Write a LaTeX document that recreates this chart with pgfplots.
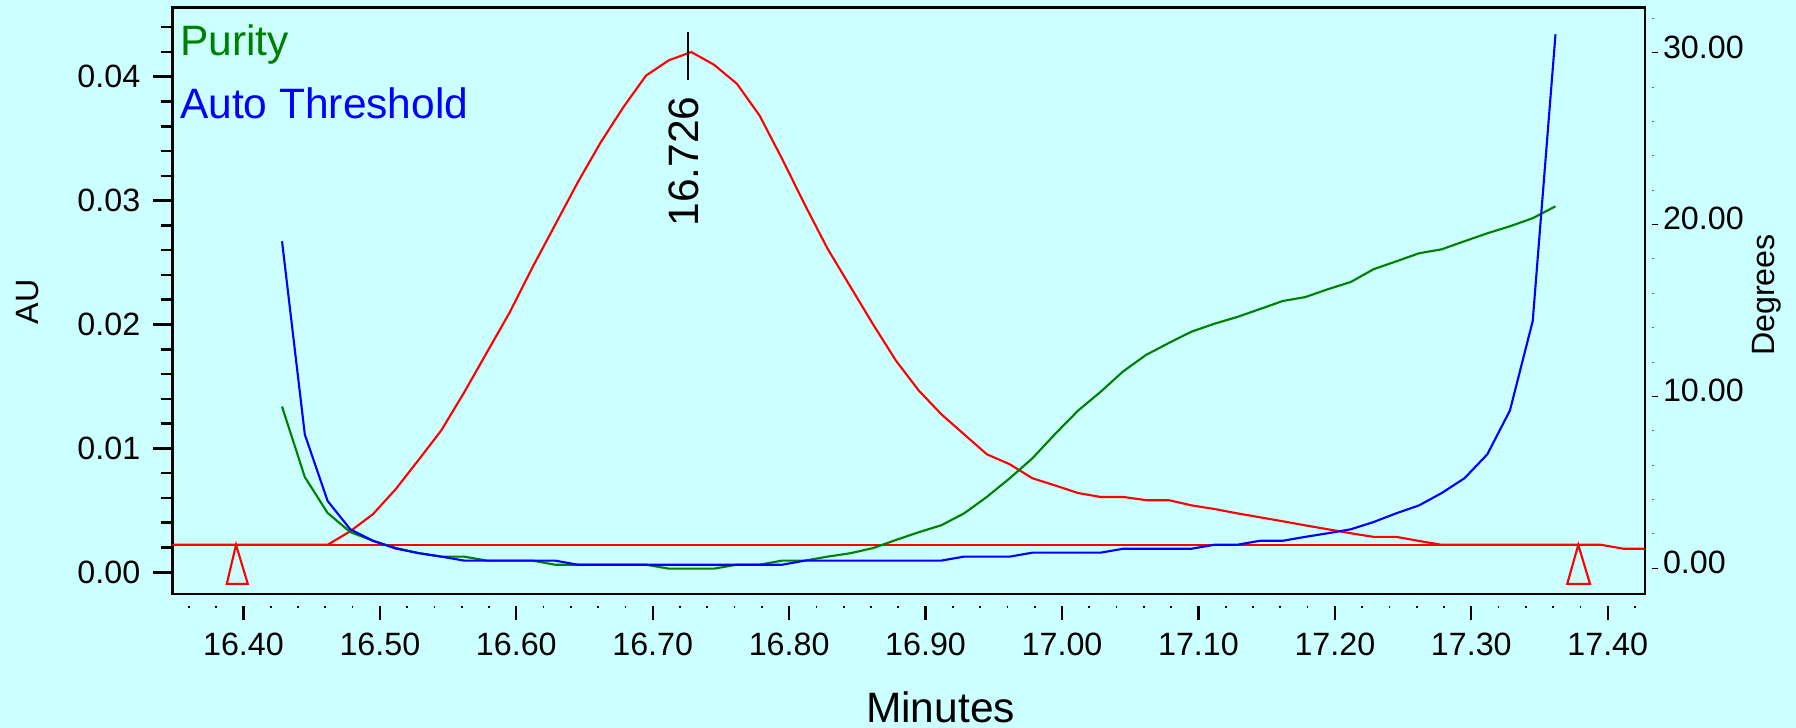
\documentclass[border=0pt]{standalone}
\usepackage{fontspec}
\setmainfont{Liberation Sans}
\usepackage{pgfplots}
\pgfplotsset{compat=1.18}

\definecolor{panel}{RGB}{204,255,255}
\definecolor{signal}{RGB}{255,0,0}
\definecolor{purity}{RGB}{0,128,0}
\definecolor{thresh}{RGB}{0,0,255}

\pgfplotsset{
  frame/.style={
    scale only axis, width=589.12pt, height=234.68pt,
    at={(68.88pt,-237.6pt)}, anchor=south west,
    xmin=16.3478, xmax=17.4273,
    scaled x ticks=false, scaled y ticks=false,
    /pgf/number format/assume math mode=true,
    tick label style={font=\fontsize{12.9}{15}\selectfont, inner sep=0pt},
    tick align=outside,
  },
  twodec/.style={/pgf/number format/fixed, /pgf/number format/fixed zerofill, /pgf/number format/precision=2},
}

\begin{document}
\begin{tikzpicture}
\path[use as bounding box] (0pt,0pt) rectangle (718.4pt,-291.2pt);
\fill[panel] (0pt,0pt) rectangle (718.4pt,-291.2pt);

% chromatogram, absorbance scale on the left
\begin{axis}[frame,
  ymin=-0.001751, ymax=0.045601,
  axis line style={line width=1.05pt},
  xtick=\empty,
  ytick={0,0.01,0.02,0.03,0.04},
  minor ytick={0.002,0.004,0.006,0.008,0.012,0.014,0.016,0.018,0.022,0.024,0.026,0.028,0.032,0.034,0.036,0.038,0.042,0.044},
  ytick pos=left,
  major tick length=7.6pt, minor tick length=4.6pt,
  every tick/.append style={black, line width=1pt},
  yticklabel style={xshift=-5.0pt, twodec},
  ylabel={AU},
  ylabel style={at={(axis description cs:-0.0909,0.4977)}, anchor=base, font=\fontsize{12.9}{15}\selectfont},
]
\addplot[signal, line width=0.85pt, mark=none] coordinates {
(16.3478,0.00222) (16.4617,0.00222) (16.4783,0.00331) (16.4950,0.00470)
(16.5117,0.00672) (16.5283,0.00906) (16.5450,0.01145) (16.5617,0.01450)
(16.5783,0.01772) (16.5950,0.02094) (16.6117,0.02458) (16.6283,0.02801)
(16.6450,0.03146) (16.6617,0.03467) (16.6783,0.03751) (16.6950,0.04008)
(16.7117,0.04132) (16.7283,0.04199) (16.7450,0.04096) (16.7617,0.03943)
(16.7783,0.03687) (16.7950,0.03333) (16.8117,0.02962) (16.8283,0.02609)
(16.8450,0.02303) (16.8617,0.01998) (16.8783,0.01708) (16.8950,0.01467)
(16.9117,0.01274) (16.9283,0.01113) (16.9450,0.00952) (16.9617,0.00872)
(16.9783,0.00759) (16.9950,0.00701) (17.0117,0.00640) (17.0283,0.00608)
(17.0450,0.00608) (17.0617,0.00582) (17.0783,0.00582) (17.0950,0.00540)
(17.1117,0.00511) (17.1283,0.00476) (17.1450,0.00444) (17.1617,0.00412)
(17.1783,0.00379) (17.1950,0.00347) (17.2117,0.00315) (17.2283,0.00286)
(17.2450,0.00286) (17.2617,0.00253) (17.2783,0.00222) (17.3950,0.00222)
(17.4117,0.00190) (17.4273,0.00190)
};
% integration baseline and its start/end markers
\addplot[signal, line width=0.85pt, mark=none] coordinates {(16.3946,0.00222) (17.3784,0.00222)};
\addplot[signal, line width=0.85pt, mark=none, line join=miter] coordinates {(16.3878,-0.000936) (16.3946,0.00222) (16.4032,-0.000936)} -- cycle;
\addplot[signal, line width=0.85pt, mark=none, line join=miter] coordinates {(17.3703,-0.000936) (17.3784,0.00222) (17.3870,-0.000936)} -- cycle;
% apex marker
\addplot[black, line width=1pt, mark=none] coordinates {(16.726,0.03977) (16.726,0.04362)};
\node[rotate=90, anchor=base east, inner sep=0pt, font=\fontsize{17}{20}\selectfont] at (axis cs:16.7339,0.03844) {16.726};
\end{axis}

% purity and threshold angles, degree scale on the right
\begin{axis}[frame,
  ymin=-1.495, ymax=32.64,
  axis x line=none,
  axis y line*=right,
  axis y line shift=2.8pt,
  axis line style={draw=none},
  ytick={0,10,20,30},
  minor ytick={2,4,6,8,12,14,16,18,22,24,26,28,32},
  major tick length=2.2pt, minor tick length=0.6pt,
  every major tick/.append style={black, line width=0.5pt},
  every minor tick/.append style={black!60, line width=0.4pt},
  yticklabel style={xshift=2.0pt, yshift=2.3pt, twodec},
  ylabel={Degrees},
  ylabel style={at={(axis description cs:1.0876,0.5096)}, anchor=base, font=\fontsize{12.9}{15}\selectfont},
]
\addplot[purity, line width=0.85pt, mark=none] coordinates {
(16.4283,9.41) (16.4450,5.31) (16.4617,3.22) (16.4783,2.11) (16.4950,1.60)
(16.5117,1.18) (16.5283,0.89) (16.5450,0.68) (16.5617,0.68) (16.5783,0.45)
(16.5950,0.45) (16.6117,0.45) (16.6283,0.21) (16.6450,0.21) (16.6617,0.21)
(16.6783,0.21) (16.6950,0.21) (16.7117,-0.02) (16.7283,-0.02) (16.7450,-0.02)
(16.7617,0.21) (16.7783,0.21) (16.7950,0.45) (16.8117,0.45) (16.8283,0.68)
(16.8450,0.88) (16.8617,1.18) (16.8783,1.65) (16.8950,2.10) (16.9117,2.51)
(16.9283,3.20) (16.9450,4.16) (16.9617,5.24) (16.9783,6.40) (16.9950,7.82)
(17.0117,9.17) (17.0283,10.27) (17.0450,11.47) (17.0617,12.42) (17.0783,13.11)
(17.0950,13.77) (17.1117,14.23) (17.1283,14.62) (17.1450,15.08) (17.1617,15.55)
(17.1783,15.78) (17.1950,16.24) (17.2117,16.66) (17.2283,17.40) (17.2450,17.86)
(17.2617,18.33) (17.2783,18.56) (17.2950,19.03) (17.3117,19.49) (17.3283,19.90)
(17.3450,20.37) (17.3617,21.06)
};
\addplot[thresh, line width=0.85pt, mark=none] coordinates {
(16.4283,19.03) (16.4450,7.79) (16.4617,3.92) (16.4783,2.27) (16.4950,1.60)
(16.5117,1.15) (16.5283,0.88) (16.5450,0.68) (16.5617,0.45) (16.5783,0.45)
(16.5950,0.45) (16.6117,0.45) (16.6283,0.45) (16.6450,0.21) (16.6617,0.21)
(16.6783,0.21) (16.6950,0.21) (16.7117,0.21) (16.7283,0.21) (16.7450,0.21)
(16.7617,0.21) (16.7783,0.21) (16.7950,0.21) (16.8117,0.45) (16.8283,0.45)
(16.8450,0.45) (16.8617,0.45) (16.8783,0.45) (16.8950,0.45) (16.9117,0.45)
(16.9283,0.68) (16.9450,0.68) (16.9617,0.68) (16.9783,0.91) (16.9950,0.91)
(17.0117,0.91) (17.0283,0.91) (17.0450,1.14) (17.0617,1.14) (17.0783,1.14)
(17.0950,1.14) (17.1117,1.37) (17.1283,1.37) (17.1450,1.60) (17.1617,1.60)
(17.1783,1.83) (17.1950,2.04) (17.2117,2.27) (17.2283,2.69) (17.2450,3.20)
(17.2617,3.66) (17.2783,4.38) (17.2950,5.24) (17.3117,6.63) (17.3283,9.18)
(17.3450,14.39) (17.3617,31.07)
};
\node[anchor=base west, inner sep=0pt, text=purity, font=\fontsize{17}{20}\selectfont] at (axis description cs:0.005,0.9179) {Purity};
\node[anchor=base west, inner sep=0pt, text=thresh, font=\fontsize{17}{20}\selectfont] at (axis description cs:0.005,0.8113) {Auto Threshold};
\end{axis}

% time scale
\begin{axis}[frame,
  ymin=0, ymax=1,
  axis y line=none,
  axis x line*=bottom,
  axis x line shift=4.8pt,
  axis line style={draw=none},
  xtick={16.4,16.5,16.6,16.7,16.8,16.9,17.0,17.1,17.2,17.3,17.4},
  minor xtick={16.36,16.38,16.42,16.44,16.46,16.48,16.52,16.54,16.56,16.58,16.62,16.64,16.66,16.68,16.72,16.74,16.76,16.78,16.82,16.84,16.86,16.88,16.92,16.94,16.96,16.98,17.02,17.04,17.06,17.08,17.12,17.14,17.16,17.18,17.22,17.24,17.26,17.28,17.32,17.34,17.36,17.38,17.42},
  major tick length=5.5pt, minor tick length=0.9pt,
  every major tick/.append style={black, line width=0.9pt},
  every minor tick/.append style={black, line width=0.7pt},
  xticklabel style={yshift=-4.9pt, twodec},
  xlabel={Minutes},
  xlabel style={at={(axis description cs:0.5217,-0.2187)}, anchor=base, font=\fontsize{17}{20}\selectfont},
]
\end{axis}
\end{tikzpicture}
\end{document}
